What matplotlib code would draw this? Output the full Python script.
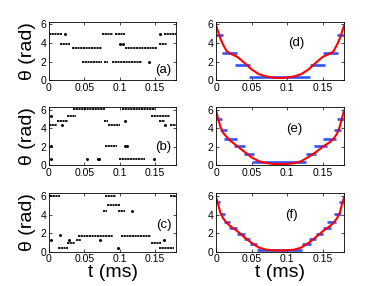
import matplotlib
matplotlib.use("Agg")
import matplotlib.pyplot as plt

plt.rcParams['font.family'] = ['Liberation Sans', 'DejaVu Sans']

# ---- left column: measured phase, runs (level, t_start, t_end) + lone dots ----
a_lvl = [5.0, 5.0, 5.0, 5.0, 3.9, 3.9, 3.45, 3.45, 2.0, 2.0, 2.0]
a_t0 = [0.0, 0.0746, 0.094, 0.162, 0.0156, 0.155, 0.032, 0.108, 0.047, 0.078, 0.0887]
a_t1 = [0.018, 0.091, 0.108, 0.18, 0.0297, 0.167, 0.0746, 0.153, 0.0746, 0.084, 0.131]
a_dot_t = [0.0227, 0.157, 0.1006, 0.1054, 0.142]
a_dot_th = [5.0, 5.0, 3.85, 3.85, 2.0]

b_lvl = [6.1, 6.1, 5.3, 5.3, 4.75, 4.75, 4.75, 4.3, 4.3, 4.3, 2.05, 0.72]
b_t0 = [0.0345, 0.103, 0.025, 0.145, 0.0109, 0.078, 0.155, 0.0, 0.084, 0.171, 0.079, 0.099]
b_t1 = [0.079, 0.150, 0.039, 0.171, 0.0274, 0.084, 0.164, 0.0109, 0.1006, 0.18, 0.096, 0.136]
b_dot_t = [0.0035, 0.1077, 0.018, 0.164, 0.0028, 0.1077, 0.111, 0.0028, 0.0534, 0.0699, 0.071, 0.148]
b_dot_th = [5.3, 4.75, 4.3, 4.3, 2.05, 2.05, 2.05, 0.72, 0.72, 0.72, 0.72, 0.72]

c_lvl = [6.0, 6.0, 6.0, 5.0, 4.4, 4.4, 1.7, 1.7, 1.3, 0.95, 0.95, 0.35, 0.35]
c_t0 = [0.001, 0.079, 0.171, 0.0817, 0.077, 0.097, 0.0416, 0.102, 0.039, 0.025, 0.145, 0.0125, 0.155]
c_t1 = [0.0156, 0.095, 0.18, 0.1006, 0.0817, 0.108, 0.091, 0.144, 0.046, 0.037, 0.158, 0.0268, 0.177]
c_dot_t = [0.117, 0.0024, 0.0288, 0.072, 0.015, 0.162, 0.098]
c_dot_th = [4.4, 1.3, 1.3, 1.3, 1.75, 1.3, 0.35]

# ---- right column: discretised steps (blue) and fitted curve (red) ----
d_lvl = [4.85, 2.9, 1.65, 0.35, 1.65, 2.9, 4.85]
d_t0 = [0.0, 0.008, 0.027, 0.047, 0.132, 0.151, 0.170]
d_t1 = [0.010, 0.029, 0.048, 0.132, 0.153, 0.172, 0.18]

e_lvl = [5.0, 3.8, 2.85, 2.1, 1.2, 0.35, 1.2, 2.1, 2.85, 3.8, 5.0]
e_t0 = [0.0, 0.006, 0.011, 0.025, 0.039, 0.051, 0.126, 0.137, 0.151, 0.166, 0.170]
e_t1 = [0.009, 0.0155, 0.030, 0.041, 0.053, 0.126, 0.140, 0.156, 0.168, 0.175, 0.18]

f_lvl = [5.3, 4.1, 3.2, 2.55, 1.95, 1.35, 0.8, 0.2, 0.8, 1.35, 1.95, 2.55, 3.2, 4.1, 5.3]
f_t0 = [0.0, 0.006, 0.011, 0.018, 0.030, 0.039, 0.048, 0.058, 0.121, 0.130, 0.140, 0.151, 0.156, 0.166, 0.1725]
f_t1 = [0.006, 0.013, 0.020, 0.030, 0.041, 0.048, 0.058, 0.121, 0.133, 0.140, 0.151, 0.161, 0.168, 0.175, 0.18]

curve_t = [0, 0.003, 0.006, 0.01, 0.015, 0.02, 0.03, 0.04, 0.05, 0.06, 0.07, 0.08, 0.09,
           0.10, 0.11, 0.12, 0.13, 0.14, 0.15, 0.16, 0.165, 0.17, 0.174, 0.177, 0.18]
curve_d = [5.9, 5.2, 4.5, 3.8, 3.1, 2.85, 2.5, 1.85, 1.15, 0.65, 0.4, 0.27, 0.22,
           0.27, 0.4, 0.65, 1.15, 1.85, 2.5, 2.85, 3.1, 3.8, 4.5, 5.2, 5.9]
curve_e = [5.9, 5.0, 4.2, 3.5, 3.05, 2.65, 2.05, 1.45, 0.85, 0.45, 0.25, 0.15, 0.13,
           0.15, 0.22, 0.45, 0.9, 1.4, 2.0, 2.5, 2.85, 3.4, 4.2, 5.1, 5.9]
curve_f = [5.9, 5.1, 4.2, 3.6, 3.1, 2.75, 2.2, 1.55, 0.95, 0.45, 0.22, 0.15, 0.13,
           0.15, 0.22, 0.45, 0.95, 1.55, 2.2, 2.75, 3.1, 3.6, 4.2, 5.1, 5.9]

xticks = [0, 0.05, 0.1, 0.15]
xticklabels = ['0', '0.05', '0.1', '0.15']
yticks = [0, 2, 4, 6]

fig = plt.figure(figsize=(3.79, 2.86), dpi=100)
bottoms = [0.720, 0.422, 0.120]
h = 0.204


def style(ax, label, lx, ly):
    ax.set_xlim(0, 0.18)
    ax.set_ylim(0, 6.2832)
    ax.set_xticks(xticks)
    ax.set_xticklabels(xticklabels)
    ax.set_yticks(yticks)
    ax.tick_params(direction='in', length=2, width=0.5, labelsize=7.5, pad=2,
                   top=True, right=True)
    for s in ax.spines.values():
        s.set_linewidth(0.6)
    ax.text(lx, ly, label, transform=ax.transAxes, fontsize=9.5, ha='center', va='center')


left = [(a_lvl, a_t0, a_t1, a_dot_t, a_dot_th, '(a)', 0.175),
        (b_lvl, b_t0, b_t1, b_dot_t, b_dot_th, '(b)', 0.32),
        (c_lvl, c_t0, c_t1, c_dot_t, c_dot_th, '(c)', 0.45)]
for i, (lvl, t0, t1, dt, dth, lab, ly) in enumerate(left):
    ax = fig.add_axes([0.129, bottoms[i], 0.336, h])
    ax.hlines(lvl, t0, t1, colors='k', linewidth=1.3, linestyles=(0, (1.2, 0.3)))
    ax.plot(dt, dth, 'k.', markersize=2.3)
    style(ax, lab, 0.9, ly)
    ax.set_ylabel('θ (rad)', fontsize=14, labelpad=3)
    if i == 2:
        ax.set_xlabel('t (ms)', fontsize=14, labelpad=0)

right = [(d_lvl, d_t0, d_t1, curve_d, '(d)', 0.63),
         (e_lvl, e_t0, e_t1, curve_e, '(e)', 0.61),
         (f_lvl, f_t0, f_t1, curve_f, '(f)', 0.59)]
for i, (lvl, t0, t1, cv, lab, lx) in enumerate(right):
    ax = fig.add_axes([0.570, bottoms[i], 0.338, h])
    ax.hlines(lvl, t0, t1, colors='#2f55ff', linewidth=1.9)
    ax.plot(curve_t, cv, color='red', linewidth=1.5)
    style(ax, lab, lx, 0.63)
    if i == 2:
        ax.set_xlabel('t (ms)', fontsize=14, labelpad=0)

fig.savefig('out.png', dpi=100)
